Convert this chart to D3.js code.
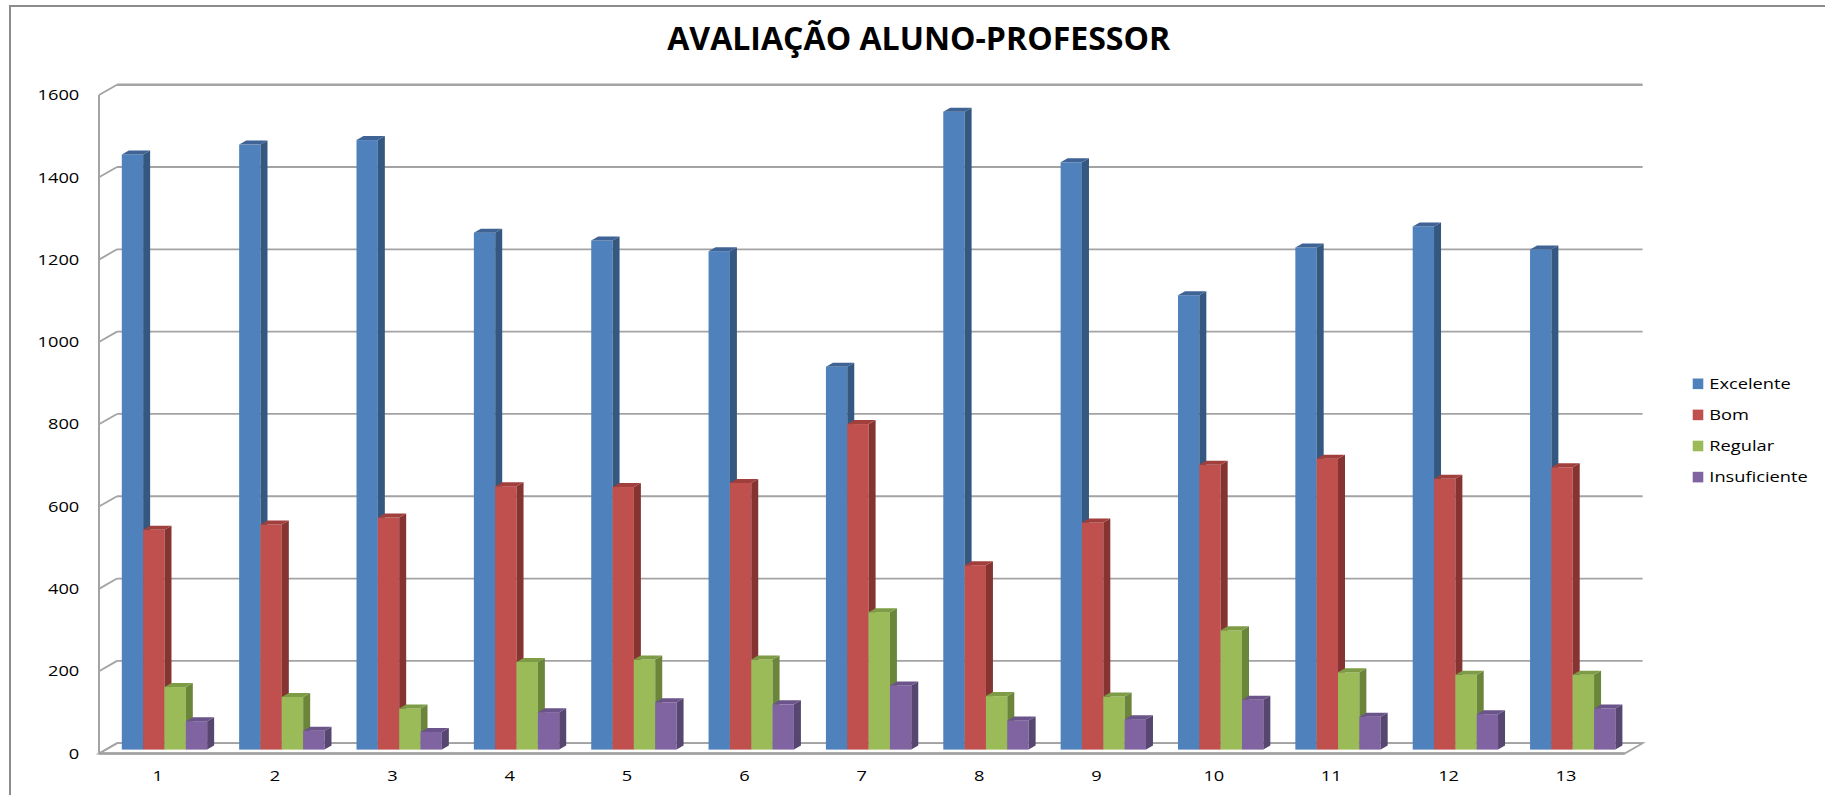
<!DOCTYPE html>
<html>
<head>
<meta charset="utf-8">
<script src="https://cdn.jsdelivr.net/npm/d3@7"></script>
<style>
  html, body { margin: 0; padding: 0; background: #ffffff; }
  svg { display: block; }
</style>
</head>
<body>
<svg id="chart" width="1825" height="795"></svg>
<script>
// ---- data ----
const categories = ["1","2","3","4","5","6","7","8","9","10","11","12","13"];
const seriesNames = ["Excelente","Bom","Regular","Insuficiente"];
const excelente    = [1446, 1470, 1481, 1256, 1237, 1211, 930, 1550, 1427, 1104, 1220, 1271, 1215];
const bom          = [534, 547, 564, 640, 638, 648, 791, 448, 552, 692, 707, 658, 686];
const regular      = [152, 128, 100, 213, 219, 219, 334, 130, 129, 290, 188, 182, 182];
const insuficiente = [69, 46, 43, 91, 115, 110, 156, 71, 74, 121, 80, 86, 100];
const yTicks = [0, 200, 400, 600, 800, 1000, 1200, 1400, 1600];
const chartTitle = "AVALIAÇÃO ALUNO-PROFESSOR";

const seriesValues = [excelente, bom, regular, insuficiente];
const colors = [
  { front: "#4F81BD", side: "#34587F", top: "#3E6394" },
  { front: "#C0504D", side: "#853432", top: "#A03F3C" },
  { front: "#9BBB59", side: "#6B863A", top: "#7E9C45" },
  { front: "#8064A2", side: "#574670", top: "#6A548A" }
];

// ---- layout ----
const svg = d3.select("#chart");
const plotLeft = 99, plotRight = 1624.6;
const floorY = 753.5, topY = 95;
const depth = { dx: 18, dy: -10.3 };        // wall / floor depth
const barDepth = { dx: 7, dy: -4 };         // depth of each column
const barOffset = { dx: 6.8, dy: -3.9 };    // columns stand mid-depth on the floor
const gridColor = "#a3a3a3";
const textScaleX = 1.26;

const y = d3.scaleLinear().domain([0, 1600]).range([floorY, topY]);
const x = d3.scaleBand().domain(categories).range([plotLeft, plotRight]).padding(0);
const xs = d3.scaleBand().domain(seriesNames).range([0, x.bandwidth()])
  .paddingInner(0).paddingOuter(0.75);

// outer frame (left and top edges)
svg.append("path")
  .attr("d", `M10,795 L10,6 L1825,6`)
  .attr("fill", "none").attr("stroke", "#8c8c8c").attr("stroke-width", 2);

// title
svg.append("text")
  .attr("x", 918.7).attr("y", 50.3)
  .attr("text-anchor", "middle")
  .attr("font-family", "'Open Sans', 'Liberation Sans', sans-serif")
  .attr("font-weight", "bold")
  .attr("font-size", 32)
  .attr("textLength", 503)
  .attr("lengthAdjust", "spacingAndGlyphs")
  .attr("fill", "#000")
  .text(chartTitle);

// floor
const g = svg.append("g");
g.append("path")
  .attr("d", `M${plotLeft},${floorY} L${plotRight},${floorY} L${plotRight + depth.dx},${floorY + depth.dy} L${plotLeft + depth.dx},${floorY + depth.dy} Z`)
  .attr("fill", "#ffffff").attr("stroke", gridColor).attr("stroke-width", 1.8);

// back-wall gridlines and side-wall connectors
yTicks.forEach(t => {
  const yy = y(t);
  g.append("line")
    .attr("x1", plotLeft + depth.dx).attr("y1", yy + depth.dy)
    .attr("x2", plotRight + depth.dx).attr("y2", yy + depth.dy)
    .attr("stroke", gridColor).attr("stroke-width", t === 1600 ? 2.4 : 1.8);
  g.append("line")
    .attr("x1", plotLeft).attr("y1", yy)
    .attr("x2", plotLeft + depth.dx).attr("y2", yy + depth.dy)
    .attr("stroke", gridColor).attr("stroke-width", 1.8);
});

// vertical value axis on the front edge
g.append("line")
  .attr("x1", plotLeft).attr("y1", y(0)).attr("x2", plotLeft).attr("y2", y(1600))
  .attr("stroke", gridColor).attr("stroke-width", 2);

// front floor edge (category axis)
g.append("line")
  .attr("x1", plotLeft).attr("y1", floorY).attr("x2", plotRight).attr("y2", floorY)
  .attr("stroke", "#a0a0a0").attr("stroke-width", 2.6);

// value labels
yTicks.forEach(t => {
  svg.append("text")
    .attr("transform", `translate(79.3,${y(t)}) scale(${textScaleX},1)`)
    .attr("dy", "0.36em")
    .attr("text-anchor", "end")
    .attr("font-family", "'Open Sans', sans-serif")
    .attr("font-size", 14.5)
    .attr("fill", "#000")
    .text(t);
});

// category labels
categories.forEach(c => {
  svg.append("text")
    .attr("transform", `translate(${x(c) + x.bandwidth() / 2},775.7) scale(${textScaleX},1)`)
    .attr("dy", "0.36em")
    .attr("text-anchor", "middle")
    .attr("font-family", "'Open Sans', sans-serif")
    .attr("font-size", 14.5)
    .attr("fill", "#000")
    .text(c);
});

// 3D columns: front face, right side, top
const bars = svg.append("g");
categories.forEach((c, i) => {
  seriesNames.forEach((s, j) => {
    const v = seriesValues[j][i];
    const xl = x(c) + xs(s) + barOffset.dx;
    const xr = xl + xs.bandwidth();
    const yt = y(v) + barOffset.dy;
    const yb = y(0) + barOffset.dy;
    const col = colors[j];
    bars.append("rect")
      .attr("x", xl).attr("y", yt)
      .attr("width", xr - xl).attr("height", yb - yt)
      .attr("fill", col.front);
    bars.append("path")
      .attr("d", `M${xr},${yt} L${xr + barDepth.dx},${yt + barDepth.dy} L${xr + barDepth.dx},${yb + barDepth.dy} L${xr},${yb} Z`)
      .attr("fill", col.side);
    bars.append("path")
      .attr("d", `M${xl},${yt} L${xl + barDepth.dx},${yt + barDepth.dy} L${xr + barDepth.dx},${yt + barDepth.dy} L${xr},${yt} Z`)
      .attr("fill", col.top);
  });
});

// legend
const legend = svg.append("g");
seriesNames.forEach((s, j) => {
  const cy = 383.8 + j * 31.1;
  legend.append("rect")
    .attr("x", 1692.7).attr("y", cy - 5.3)
    .attr("width", 10.6).attr("height", 10.6)
    .attr("fill", colors[j].front);
  legend.append("text")
    .attr("transform", `translate(1709.3,${cy}) scale(${textScaleX},1)`)
    .attr("dy", "0.36em")
    .attr("font-family", "'Open Sans', sans-serif")
    .attr("font-size", 14.5)
    .attr("fill", "#000")
    .text(s);
});
</script>
</body>
</html>
